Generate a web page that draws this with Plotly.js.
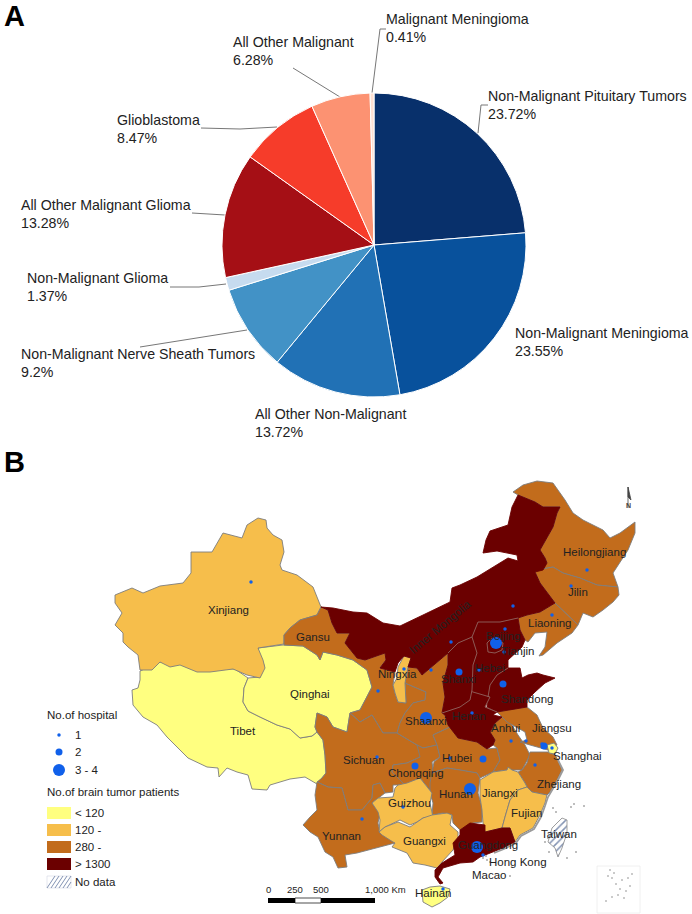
<!DOCTYPE html>
<html><head><meta charset="utf-8">
<script src="https://cdn.plot.ly/plotly-3.0.1.min.js"></script>
<style>html,body{margin:0;padding:0;background:#fff}#c{width:692px;height:914px}</style>
</head><body><div id="c"></div>
<script>
// ---- Pie data
const tumorTypes = ['Non-Malignant Pituitary Tumors','Non-Malignant Meningioma','All Other Non-Malignant','Non-Malignant Nerve Sheath Tumors','Non-Malignant Glioma','All Other Malignant Glioma','Glioblastoma','All Other Malignant','Malignant Meningioma'];
const tumorShares = [23.72,23.55,13.72,9.2,1.37,13.28,8.47,6.28,0.41];
const tumorColors = ['#08306b','#08519c','#2171b5','#4292c6','#c6dbef','#a50f15','#f63c2a','#fc9272','#fee0d2'];
const tumorLabelX = [488,515,255,21,27,21,117,233,386];
const tumorLabelY = [96,333,414,354,278,205,120,42,19];
const leaders = [[488,105,481,105,478,133],[140,347,247,330],[170,287,199,287,226,284],[192,213,225,215],[201,128,240,129,277,127],[293,68,340,97],[386,29,380,29,372,93]];

// ---- Map outlines (x,y pairs on the page-sized map plane)
const xinjiang=[258,518,266,520,267,528,273,535,282,540,284,552,280,565,282,570,297,575,313,587,321,607,317,615,300,620,290,628,284,635,284,644,258,648,263,660,265,668,260,678,247,675,233,669,210,672,197,672,180,665,170,667,160,662,152,670,140,670,138,655,128,647,123,642,123,633,115,625,122,613,115,603,115,595,132,588,143,593,160,586,183,583,191,573,191,552,212,552,223,533,242,538,247,525];
const tibet=[140,671,160,662,180,664,198,671,217,668,235,669,248,678,244,688,243,702,248,711,260,717,277,725,290,729,300,738,312,736,317,732,323,740,325,755,326,773,322,778,317,784,305,777,290,779,270,785,267,790,252,789,248,775,237,772,227,768,219,777,218,768,207,767,188,758,175,745,167,737,157,725,143,717,133,705,132,690,138,688,140,680];
const qinghai=[258,648,283,645,303,646,317,655,320,660,323,652,337,655,353,660,367,670,372,687,360,710,350,713,347,732,333,727,327,717,317,713,315,727,317,732,312,736,300,738,290,729,277,725,260,717,248,711,243,702,244,688,248,678,260,677,264,665,258,655];
const gansu=[321,607,328,610,332,623,337,633,350,633,345,643,357,658,365,660,385,653,386,660,382,665,380,668,395,672,393,685,395,693,398,702,406,703,405,683,426,692,425,700,413,703,405,713,400,723,397,733,383,733,372,715,360,722,350,713,360,710,372,687,367,670,353,660,337,655,323,652,320,660,317,655,303,646,284,645,284,635,290,628,300,620,317,615];
const sichuan=[315,727,317,713,327,717,333,727,347,732,350,713,360,722,372,715,383,733,397,733,417,745,423,748,420,757,407,763,393,765,392,772,405,785,393,785,393,792,385,793,380,783,373,785,372,798,362,810,348,810,342,788,328,787,317,782,322,778,326,773,325,755,323,740,317,732];
const yunnan=[317,782,328,787,342,788,348,810,362,810,372,798,373,785,380,783,385,793,378,798,372,803,380,813,378,823,380,832,395,839,395,843,377,848,357,853,345,855,347,867,338,868,333,857,325,852,318,837,310,832,303,825,310,817,317,810,315,795];
const shaanxi=[408,667,417,668,422,675,430,668,448,653,448,665,443,683,445,697,442,713,445,715,448,725,450,727,433,735,437,745,423,748,417,745,397,733,400,723,405,713,413,703,425,700,426,692,405,683];
const chongqing=[417,745,423,748,437,745,440,757,432,762,434,775,432,793,428,788,420,778,405,785,392,772,393,765,407,763,420,757];
const hubei=[433,735,450,727,458,738,477,742,487,749,497,748,500,760,493,772,480,778,477,773,460,770,447,768,432,773,434,762,440,757,437,745];
const hunan=[432,773,447,768,460,770,477,773,480,778,478,793,482,807,482,822,473,823,460,830,453,823,452,815,443,813,432,815,433,803,430,793,430,783];
const anhui=[502,717,510,722,518,735,525,745,530,755,522,770,507,770,493,772,500,760,497,748,493,745,495,740,490,732,495,723];
const jiangsu=[497,712,507,710,527,707,537,715,543,728,553,737,557,745,548,750,530,745,520,742,527,740,525,732,507,722,502,717];
const zhejiang=[530,752,548,752,555,755,558,760,562,770,557,780,550,792,547,795,532,792,527,787,525,783,518,772,522,770,527,763];
const shanghai=[547,745,554,743,558,748,555,754,549,753];
const guizhou=[372,803,378,798,393,797,395,788,398,785,407,783,420,778,428,788,432,793,430,803,433,817,423,818,417,822,410,825,400,820,385,827,379,832,380,820,378,812];
const guangxi=[379,832,385,827,398,822,410,827,423,818,432,815,447,813,452,815,450,825,458,832,458,838,453,850,442,862,437,868,425,865,413,863,407,853,392,847,395,843,393,842,382,835];
const jiangxi=[480,780,493,772,507,770,508,767,512,770,518,772,525,783,527,787,518,790,510,800,505,817,502,828,485,832,483,823,482,810,480,797];
const fujian=[527,787,532,792,547,795,545,803,540,815,533,828,520,835,515,842,510,828,502,828,505,817,510,800,518,790];
const guangdong=[470,823,485,825,485,832,502,828,510,828,515,842,503,848,492,852,480,857,473,862,460,863,443,868,438,877,443,883,440,884,435,877,435,870,442,863,455,855,453,843,460,835,460,830];
const hainan=[422,890,430,887,440,886,450,889,448,897,440,903,432,907,423,902];
const innerMongolia=[321,607,333,608,353,612,367,613,383,623,400,626,423,615,450,602,452,588,460,585,477,577,493,567,508,558,518,561,517,555,497,551,483,553,486,540,490,531,508,525,512,507,518,495,535,502,543,507,560,507,557,513,553,527,540,550,545,558,547,563,543,570,535,572,540,583,555,603,540,612,527,615,518,618,500,622,478,622,472,637,458,643,448,653,430,668,422,675,417,668,408,667,411,658,404,656,398,663,395,672,380,668,382,665,386,660,385,653,365,660,357,658,345,643,350,633,337,633,332,623,328,610];
const heilongjiang=[513,492,523,485,537,481,553,483,565,500,573,513,583,520,603,530,610,538,620,533,635,522,635,533,628,550,620,563,613,573,618,587,597,585,580,578,563,573,553,567,537,570,547,563,545,558,540,550,553,527,557,513,560,507,543,507,535,502,518,495];
const jilin=[537,570,553,567,563,573,580,578,597,585,618,587,619,595,613,602,603,610,593,617,583,613,578,625,555,603,540,583,535,572];
const liaoning=[518,618,527,615,540,612,555,603,578,625,572,633,557,643,543,655,539,656,545,647,547,632,535,633,528,642,525,640,520,630];
const hebei=[478,622,500,622,518,618,520,630,525,640,522,647,508,660,508,668,497,675,490,685,488,697,473,692,472,690,473,665,477,653,472,637];
const shanxi=[448,653,458,643,472,637,477,653,473,665,472,690,470,700,460,707,442,713,445,697,443,683,448,665];
const shandong=[490,685,497,675,508,668,520,668,522,678,528,675,537,673,543,675,555,678,545,683,535,692,527,700,527,707,507,710,497,712,487,707,488,697];
const henan=[442,713,460,707,473,692,490,697,485,707,497,712,493,715,502,717,495,723,490,732,495,740,493,745,487,749,477,742,458,738,448,725,445,715];
const tianjin=[503,643,507,645,507,653,508,660,505,662,499,660,501,652];
const ningxia=[404,656,411,658,408,667,405,683,406,703,398,702,395,693,393,685,397,678,398,667];
const taiwan=[562,818,567,820,567,833,562,848,558,857,555,848,548,842,552,828];

// internal borders inside the darkest block
const darkBorders=[[448,653,458,643,472,637,478,622,500,622,518,618],[472,637,477,653,473,665,472,690,470,700,460,707,442,713],[473,692,490,697,485,707,497,712],[488,697,490,685,497,675,508,668],[487,643,492,638,503,643,502,650,495,653,488,652,487,643]];
// rough island-strewn shore
const shoreLine=[558,760,563,770,558,780,551,792,548,797,545,806,541,817,534,829,521,836,516,843,504,849,494,853];

// hospital dots: x, y, class (1, 2, 3 = 3-4 hospitals)
const hospitalX=[251,378,587,571,552,513,505,496,504,451,431,404,459,479,503,426,472,511,526,544,542,552,535,483,450,415,377,470,403,362,477,483,443];
const hospitalY=[582,691,570,586,615,606,629,643,652,642,670,669,672,670,684,718,713,741,741,746,744,748,765,759,758,766,757,789,807,819,847,855,889];
const hospitalClass=[1,1,1,1,1,1,1,3,1,1,1,1,2,1,2,3,1,1,1,2,1,1,1,2,1,2,1,3,1,1,3,1,1];

const placeNames=['Xinjiang','Qinghai','Tibet','Gansu','Ningxia','Heilongjiang','Jilin','Liaoning','Beijing','Tianjin','Hebei','Shanxi','Shandong','Shaanxi','Henan','Anhui','Jiangsu','Shanghai','Hubei','Sichuan','Chongqing','Zhejiang','Jiangxi','Hunan','Guizhou','Fujian','Yunnan','Guangxi','Guangdong','Taiwan','Hong Kong','Macao','Hainan'];
const placeX=[228,310,243,313,397,594,578,549,503,517,490,458,527,426,469,505,552,577,457,364,416,559,500,456,409,526,341,424,488,559,518,489,433];
const placeY=[610,694,731,637,674,552,592,623,636,651,668,679,699,721,716,728,728,756,758,760,773,784,793,794,803,813,836,841,845,834,862,875,893];

const islets=[571,807,574,804,584,806,548,838,545,842,549,852,483,858,487,860,486,856,490,862,553,808,556,812,576,852,567,858,510,876];
const seaIslets=[610,870,614,873,612,878,608,876,622,880,628,878,616,884,620,889,626,891,630,886,612,897,618,895,606,901,624,898,632,874];

const legendDotLabels=['1','2','3 - 4'], legendDotY=[735,752,770], legendDotClass=[1,2,3];
const legendBoxLabels=['< 120','120 -','280 -','> 1300','No data'], legendBoxY=[813,830,847,864,882];
const dotSize={1:3.5,2:7,3:12};
const YEL='#ffff80',ORG='#f6be4b',BRN='#c26c1c',DRK='#6b0000',EDGE='#7d7d7d';

const regions=[[tibet,YEL],[qinghai,YEL],[xinjiang,ORG],[gansu,BRN],[sichuan,BRN],[yunnan,BRN],[shaanxi,BRN],[chongqing,BRN],[hubei,BRN],[hunan,BRN],[anhui,BRN],[jiangsu,BRN],[zhejiang,BRN],[heilongjiang,BRN],[jilin,BRN],[liaoning,BRN],[guizhou,ORG],[guangxi,ORG],[jiangxi,ORG],[fujian,ORG],[ningxia,ORG],[tianjin,ORG],[innerMongolia,DRK],[hebei,DRK],[shanxi,DRK],[shandong,DRK],[henan,DRK],[guangdong,DRK],[shanghai,YEL],[hainan,YEL]];

const traces=[];
const evens=a=>a.filter((_,i)=>i%2==0), odds=a=>a.filter((_,i)=>i%2==1);
const xs=a=>{const o=evens(a);o.push(o[0]);return o};
const ys=a=>{const o=odds(a);o.push(o[0]);return o};
const base={hoverinfo:'skip',showlegend:false};
regions.forEach(([r,c])=>traces.push(Object.assign({type:'scatter',mode:'lines',x:xs(r),y:ys(r),fill:'toself',fillcolor:c,line:{color:c===DRK?DRK:EDGE,width:0.9}},base)));
const bx=[],by=[];darkBorders.forEach(l=>{bx.push(...evens(l),null);by.push(...odds(l),null)});
traces.push(Object.assign({type:'scatter',mode:'lines',x:bx,y:by,line:{color:'#94706a',width:0.8}},base));
traces.push(Object.assign({type:'scatter',mode:'lines',x:evens(shoreLine),y:odds(shoreLine),line:{color:'#9a9a9a',width:1.8}},base));
traces.push(Object.assign({type:'scatter',mode:'lines',x:xs(taiwan),y:ys(taiwan),fill:'toself',fillcolor:'#fff',fillpattern:{shape:'/',fgcolor:'#8393b3',bgcolor:'#ffffff',size:5,solidity:0.3},line:{color:'#8a8a8a',width:0.8}},base));
traces.push(Object.assign({type:'scatter',mode:'markers',x:evens(islets),y:odds(islets),marker:{size:2,color:'#a8a8a8',opacity:1}},base));
traces.push(Object.assign({type:'scatter',mode:'markers',x:evens(seaIslets),y:odds(seaIslets),marker:{size:1.6,color:'#888',opacity:1}},base));
const lx=[],ly=[];leaders.forEach(l=>{lx.push(...evens(l),null);ly.push(...odds(l),null)});
traces.push(Object.assign({type:'scatter',mode:'lines',x:lx,y:ly,line:{color:'#777',width:1}},base));
traces.push(Object.assign({type:'scatter',mode:'markers',x:hospitalX,y:hospitalY,marker:{size:hospitalClass.map(c=>dotSize[c]),color:'#1060ea',opacity:1,line:{width:0}}},base));
traces.push(Object.assign({type:'scatter',mode:'markers',x:legendDotY.map(()=>59),y:legendDotY,marker:{size:legendDotClass.map(c=>dotSize[c]),color:'#1060ea',opacity:1,line:{width:0}}},base));
traces.push({type:'pie',labels:tumorTypes,values:tumorShares,sort:false,direction:'clockwise',rotation:0,textinfo:'none',hoverinfo:'label+percent',showlegend:false,
 marker:{colors:tumorColors,line:{color:'#ffffff',width:1}},domain:{x:[222/692,526/692],y:[1-397/914,1-93/914]}});

const F='Liberation Sans, Arial, sans-serif';
const ann=[];
const T=(t,x,y,size,opt={})=>ann.push(Object.assign({text:t,x:(opt.xanchor==='left'?x-2:x),y,xref:'x',yref:'y',showarrow:false,xanchor:'center',yanchor:'middle',font:{family:F,size,color:'#222'}},opt));
tumorTypes.forEach((n,i)=>{T(n,tumorLabelX[i],tumorLabelY[i],14.2,{xanchor:'left'});T(tumorShares[i]+'%',tumorLabelX[i],tumorLabelY[i]+18,14.2,{xanchor:'left'})});
T('A',4,16,29,{xanchor:'left',font:{family:F,size:29,color:'#000',weight:700}});
T('B',4,462,29,{xanchor:'left',font:{family:F,size:29,color:'#000',weight:700}});
placeNames.forEach((n,i)=>T(n,placeX[i],placeY[i],11.5));
T('Inner Mongolia',440,627,11.5,{textangle:-40});
T('No.of hospital',47,715,11.5,{xanchor:'left'});
T('No.of brain tumor patients',47,792,11.5,{xanchor:'left'});
legendDotLabels.forEach((n,i)=>T(n,75,legendDotY[i],11.5,{xanchor:'left'}));
legendBoxLabels.forEach((n,i)=>T(n,75,legendBoxY[i],11.5,{xanchor:'left'}));
T('0',268,889,9.5);T('250',295,889,9.5);T('500',321,889,9.5);T('1,000 Km',385,889,9.5);
T('N',628,505,7,{font:{family:F,size:7,color:'#444',weight:700}});

const R=(x0,y0,x1,y1,fill,line)=>({type:'rect',xref:'x',yref:'y',x0,y0,x1,y1,fillcolor:fill,line:line||{width:0},layer:'above'});
const legendFills=[YEL,ORG,BRN,DRK];
const shapes=[];
legendFills.forEach((c,i)=>shapes.push(R(47,legendBoxY[i]-6,71,legendBoxY[i]+6,c)));
shapes.push(R(47,876,71,888,'#ffffff',{color:'#c8cfdd',width:0.5}));
for(let k=0;k<6;k++){const x0=47+k*4,x1=Math.min(71,x0+8);shapes.push({type:'line',xref:'x',yref:'y',x0,y0:888,x1,y1:888-(x1-x0)*1.5,line:{color:'#8393b3',width:1}})}
shapes.push(R(268,898,295,903,'#000'),R(295,898,321,903,'#fff',{color:'#000',width:0.7}),R(321,898,375,903,'#000'));
shapes.push(R(597,866,640,913,'rgba(0,0,0,0)',{color:'#ececec',width:0.8}));
shapes.push({type:'path',xref:'x',yref:'y',path:'M 628 487 L 631 500 L 628 497 Z M 628 487 L 628 508',line:{color:'#444',width:0.8},fillcolor:'#444'});

Plotly.newPlot('c',traces,{width:692,height:914,margin:{l:0,r:0,t:0,b:0},paper_bgcolor:'#fff',plot_bgcolor:'#fff',showlegend:false,
 xaxis:{range:[0,692],visible:false,fixedrange:true},yaxis:{range:[914,0],visible:false,fixedrange:true},annotations:ann,shapes:shapes},{staticPlot:true,displayModeBar:false});
</script></body></html>
